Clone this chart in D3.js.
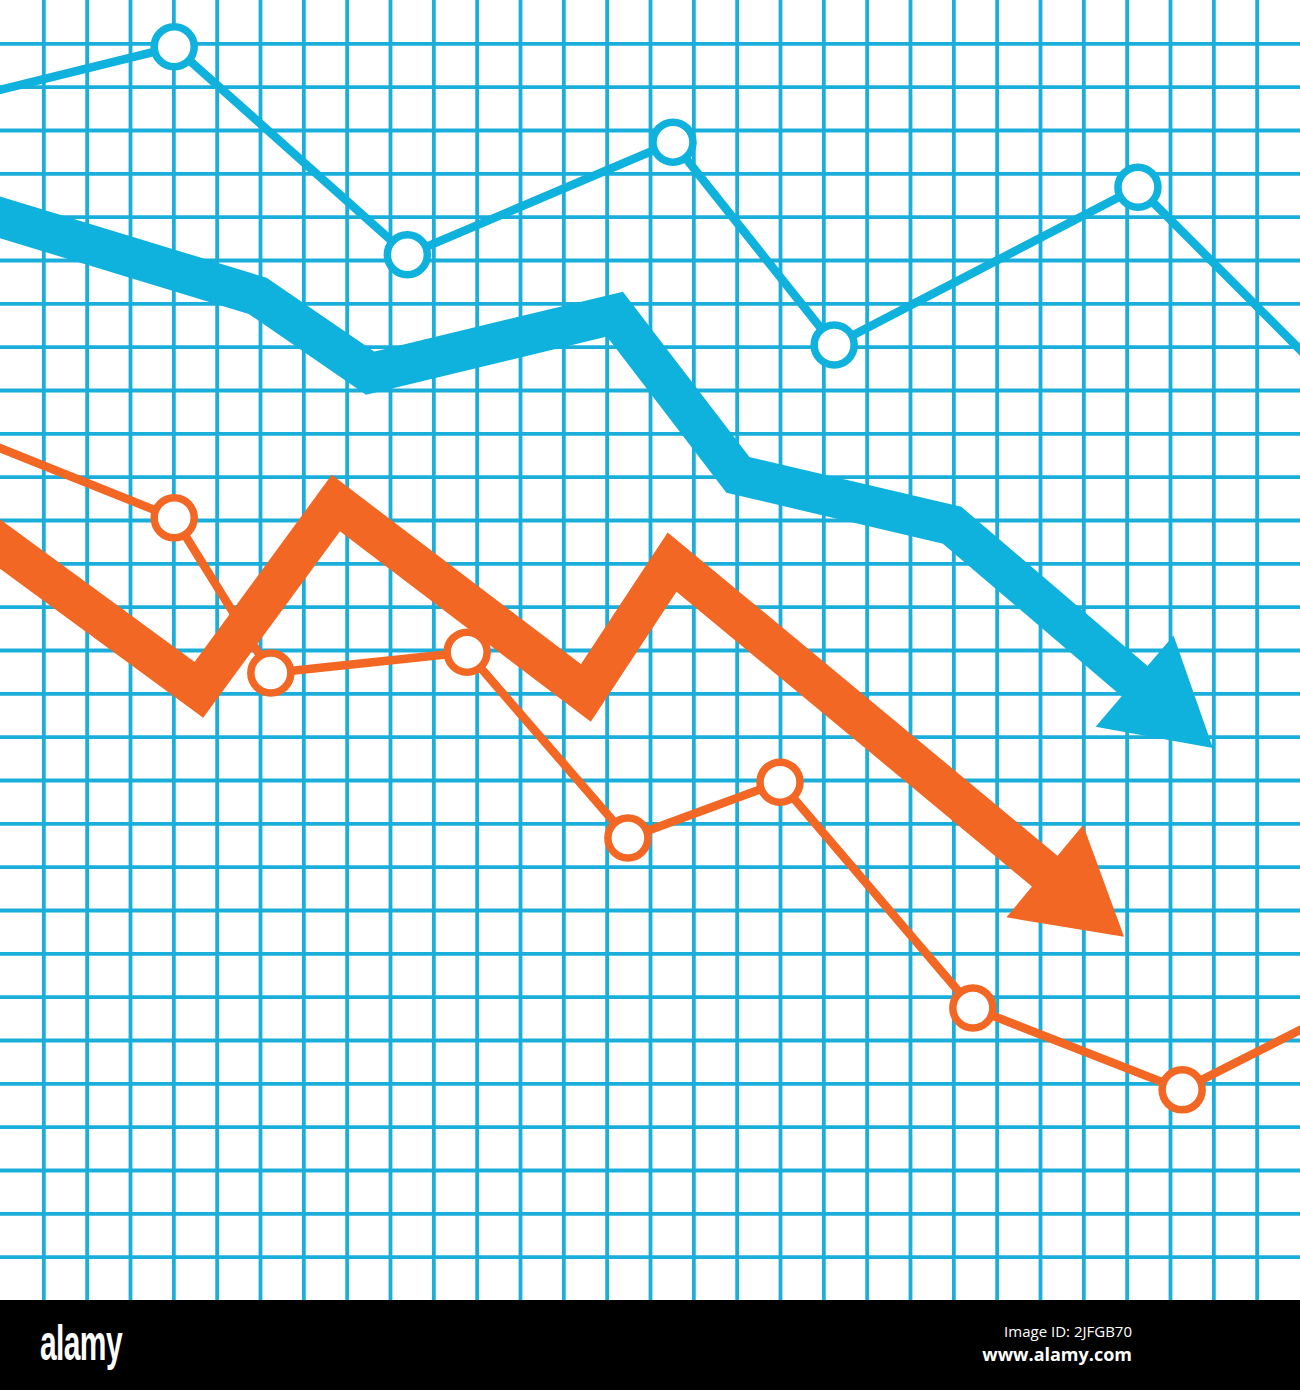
<!DOCTYPE html>
<html><head><meta charset="utf-8">
<script src="https://cdn.jsdelivr.net/npm/d3@7"></script>
<style>html,body{margin:0;padding:0;background:#fff;}svg{display:block;}</style>
</head><body>
<script>
// Data in grid units (30 x 30 grid); value axis increases upward
const gridTicks = d3.range(1, 30);

const thinBlueX = [-1, 4.02, 9.4, 15.53, 19.25, 26.26, 31];
const thinBlueV = [27.68, 28.92, 24.12, 26.72, 22.04, 25.68, 20.93];
const thinBlueMarkers = [1, 2, 3, 4, 5];

const thinOrangeX = [-1, 4.02, 6.25, 10.78, 14.49, 18.0, 22.45, 27.28, 31];
const thinOrangeV = [20.06, 18.05, 14.47, 14.95, 10.66, 11.95, 6.74, 4.85, 6.74];
const thinOrangeMarkers = [1, 2, 3, 4, 5, 6, 7];

const thickBlueX = [-1, 5.95, 8.54, 14.19, 17.03, 21.97, 27.99];
const thickBlueV = [25.29, 23.17, 21.39, 22.75, 19.04, 17.88, 12.74];

const thickOrangeX = [-1, 4.59, 7.75, 13.52, 15.51, 25.94];
const thickOrangeV = [18.18, 14.08, 18.39, 14.01, 17.03, 8.38];

const W = 1300, H = 1390, plotH = 1300;
const BLUE = "#0fb1dd", GRID = "#1aaedb", ORANGE = "#f26724";

const svg = d3.select("body").append("svg").attr("width", W).attr("height", H);
svg.append("rect").attr("width", W).attr("height", plotH).attr("fill", "#fff");

const x = d3.scaleLinear().domain([0, 30]).range([0, W]);
const y = d3.scaleLinear().domain([0, 30]).range([plotH, 0]);

// grid via axes
const gx = svg.append("g").attr("transform", `translate(0,${plotH})`)
  .call(d3.axisBottom(x).tickValues(gridTicks).tickSize(-plotH).tickFormat(""));
const gy = svg.append("g")
  .call(d3.axisLeft(y).tickValues(gridTicks).tickSize(-W).tickFormat(""));
[gx, gy].forEach(g => {
  g.select(".domain").remove();
  g.selectAll(".tick line").attr("stroke", GRID).attr("stroke-width", 3.8);
});

const line = d3.line().x(d => x(d[0])).y(d => y(d[1]));

function thinSeries(xs, vs, markers, color) {
  const pts = xs.map((d, i) => [d, vs[i]]);
  svg.append("path").attr("d", line(pts)).attr("fill", "none")
    .attr("stroke", color).attr("stroke-width", 8.5).attr("stroke-linejoin", "round");
  svg.selectAll(null).data(markers.map(i => pts[i])).join("circle")
    .attr("cx", d => x(d[0])).attr("cy", d => y(d[1])).attr("r", 20)
    .attr("fill", "#fff").attr("stroke", color).attr("stroke-width", 7.5);
}

function arrowSeries(xs, vs, color) {
  const pts = xs.map((d, i) => [x(d), y(vs[i])]);
  const tip = pts[pts.length - 1], prev = pts[pts.length - 2];
  const dx = tip[0] - prev[0], dy = tip[1] - prev[1], L = Math.hypot(dx, dy);
  const ux = dx / L, uy = dy / L, headLen = 103, halfW = 60;
  const base = [tip[0] - ux * headLen, tip[1] - uy * headLen];
  const bodyEnd = [base[0] + ux * 12, base[1] + uy * 12];
  const body = pts.slice(0, -1).concat([bodyEnd]);
  svg.append("path").attr("d", d3.line()(body)).attr("fill", "none")
    .attr("stroke", color).attr("stroke-width", 40).attr("stroke-linejoin", "miter")
    .attr("stroke-miterlimit", 10);
  const head = [
    [base[0] - uy * halfW, base[1] + ux * halfW],
    tip,
    [base[0] + uy * halfW, base[1] - ux * halfW]
  ];
  svg.append("path").attr("d", d3.line()(head) + "Z").attr("fill", color);
}

thinSeries(thinBlueX, thinBlueV, thinBlueMarkers, BLUE);
thinSeries(thinOrangeX, thinOrangeV, thinOrangeMarkers, ORANGE);
arrowSeries(thickBlueX, thickBlueV, BLUE);
arrowSeries(thickOrangeX, thickOrangeV, ORANGE);

// bottom bar
svg.append("rect").attr("x", 0).attr("y", plotH).attr("width", W).attr("height", H - plotH).attr("fill", "#000");
svg.append("text").attr("x", 40).attr("y", 1360).text("alamy")
  .attr("fill", "#fff").attr("font-family", "Liberation Sans, Arial, sans-serif")
  .attr("font-weight", "bold").attr("font-size", 50)
  .attr("textLength", 82).attr("lengthAdjust", "spacingAndGlyphs").attr("letter-spacing", -1);
svg.append("text").attr("x", 1132).attr("y", 1337).attr("text-anchor", "end")
  .text("Image ID: 2JFGB70").attr("fill", "#fff")
  .attr("font-family", "Open Sans, DejaVu Sans, sans-serif").attr("font-size", 15);
svg.append("text").attr("x", 1132).attr("y", 1361).attr("text-anchor", "end")
  .text("www.alamy.com").attr("fill", "#fff").attr("font-weight", "bold")
  .attr("font-family", "Open Sans, DejaVu Sans, sans-serif").attr("font-size", 18);
</script>
</body></html>
